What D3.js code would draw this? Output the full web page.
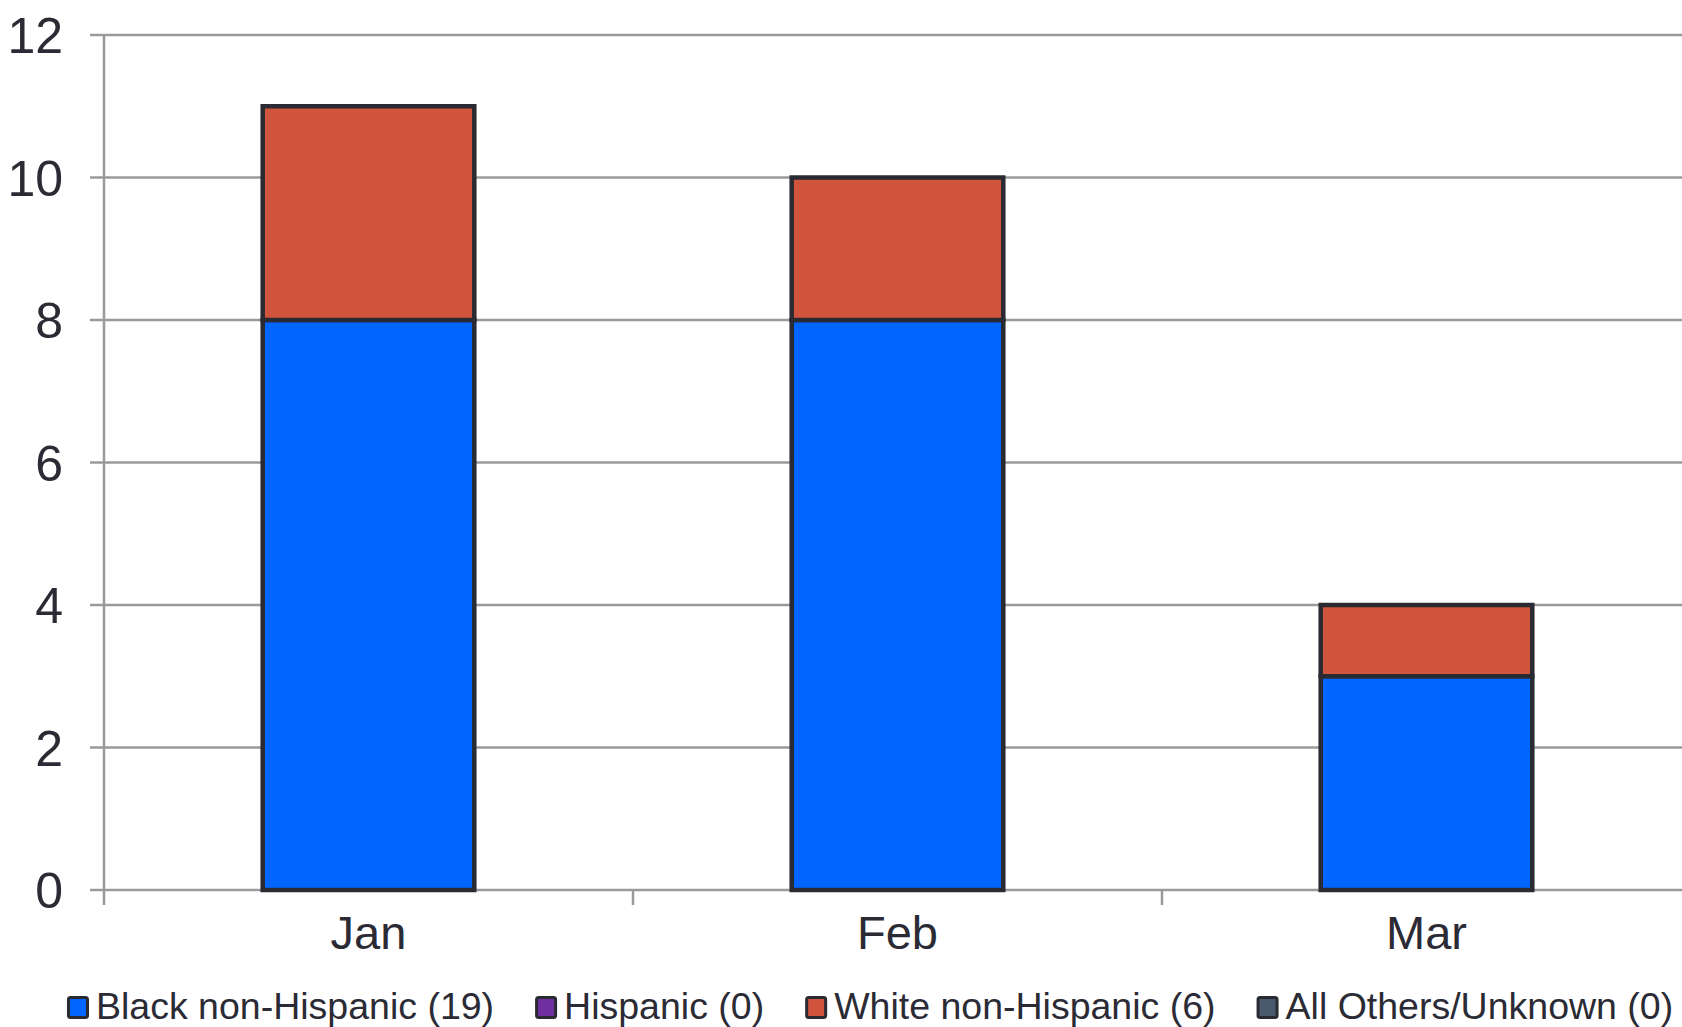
<!DOCTYPE html>
<html><head><meta charset="utf-8">
<script src="https://cdn.jsdelivr.net/npm/d3@7"></script>
<style>body{margin:0;background:#fff;overflow:hidden}svg{display:block}text{font-family:"Liberation Sans",Arial,sans-serif;fill:#2b2b35}</style>
</head><body>
<svg id="c" width="1682" height="1027"></svg>
<script>
const categories = ["Jan","Feb","Mar"];
const seriesNames = ["Black non-Hispanic (19)","Hispanic (0)","White non-Hispanic (6)","All Others/Unknown (0)"];
const seriesColors = ["#0066ff","#7030a0","#d1553c","#4a5a6e"];
const blackVals = [8,8,3];
const hispanicVals = [0,0,0];
const whiteVals = [3,2,1];
const othersVals = [0,0,0];
const yTicks = [0,2,4,6,8,10,12];

(function(){
const svg = d3.select("#c");
const mLeft = 104, mRight = 1691, mTop = 35, mBottom = 890;
const x = d3.scaleBand().domain(categories).range([mLeft,mRight]).paddingInner(0.6).paddingOuter(0.3);
const y = d3.scaleLinear().domain([0,12]).range([mBottom, mTop]);

const rows = categories.map((c,i)=>({cat:c, s0:blackVals[i], s1:hispanicVals[i], s2:whiteVals[i], s3:othersVals[i]}));
const stack = d3.stack().keys(["s0","s1","s2","s3"])(rows);

// gridlines
svg.append("g").selectAll("line").data(yTicks).join("line")
  .attr("x1", mLeft-14).attr("x2", mRight).attr("y1", d=>y(d)).attr("y2", d=>y(d))
  .attr("stroke","#9a9a9a").attr("stroke-width",2.5);
// y axis line
svg.append("line").attr("x1",mLeft).attr("x2",mLeft).attr("y1",mTop).attr("y2",mBottom+15)
  .attr("stroke","#9a9a9a").attr("stroke-width",2.5);
// x category ticks
const bounds = categories.map(c=>x(c)-x.step()*x.paddingInner()/2).slice(1);
svg.append("g").selectAll("line").data(bounds).join("line")
  .attr("x1",d=>d).attr("x2",d=>d).attr("y1",mBottom).attr("y2",mBottom+15)
  .attr("stroke","#9a9a9a").attr("stroke-width",2.5);

// y labels
svg.append("g").selectAll("text").data(yTicks).join("text")
  .attr("x",63).attr("y",d=>y(d)).attr("dy","0.36em").attr("text-anchor","end")
  .attr("font-size",50).text(d=>d);

// bars
stack.forEach((s,si)=>{
  svg.append("g").selectAll("rect").data(s.filter(d=>d[1]-d[0]>0)).join("rect")
    .attr("x",d=>x(d.data.cat)).attr("width",x.bandwidth())
    .attr("y",d=>y(d[1])).attr("height",d=>y(d[0])-y(d[1]))
    .attr("fill",seriesColors[si]).attr("stroke","#2a2a33").attr("stroke-width",4.5);
});

// x labels
svg.append("g").selectAll("text").data(categories).join("text")
  .attr("x",d=>x(d)+x.bandwidth()/2).attr("y",949).attr("text-anchor","middle")
  .attr("font-size",47).text(d=>d);

// legend
const lg = svg.append("g");
let lx = 67;
seriesNames.forEach((n,i)=>{
  lg.append("rect").attr("x",lx+1.5).attr("y",997.5).attr("width",19).attr("height",20).attr("rx",2)
    .attr("fill",seriesColors[i]).attr("stroke","#2a2a33").attr("stroke-width",3);
  const t = lg.append("text").attr("x",lx+29).attr("y",1019).attr("font-size",37.5).text(n);
  lx += 29 + t.node().getComputedTextLength() + 41;
});
})();
</script>
</body></html>
